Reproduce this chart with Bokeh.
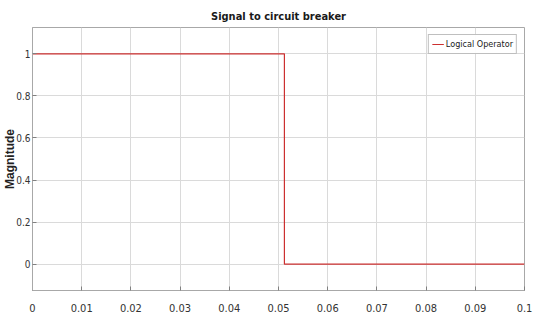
from bokeh.plotting import figure
from bokeh.models import Range1d, FixedTicker, Legend, LegendItem
from bokeh.embed import file_html
from bokeh.resources import INLINE

time = [0.0, 0.0512, 0.0512, 0.1]
signal = [1, 1, 0, 0]
x_ticks = [0, 0.01, 0.02, 0.03, 0.04, 0.05, 0.06, 0.07, 0.08, 0.09, 0.1]
x_labels = ["0", "0.01", "0.02", "0.03", "0.04", "0.05", "0.06", "0.07", "0.08", "0.09", "0.1"]
y_ticks = [0, 0.2, 0.4, 0.6, 0.8, 1]
y_labels = ["0", "0.2", "0.4", "0.6", "0.8", "1"]

NARROW = "'DejaVu Sans Condensed', 'Liberation Sans', sans-serif"

p = figure(width=537, height=314, output_backend="svg", toolbar_location=None,
           x_range=Range1d(0, 0.1), y_range=Range1d(-0.125, 1.125),
           min_border_left=32, min_border_right=13, min_border_top=27, min_border_bottom=24)

p.title.text = "Signal to circuit breaker"
p.title.align = "center"
p.title.text_font = NARROW
p.title.text_font_size = "11px"
p.title.text_font_style = "bold"
p.title.text_color = "#1a1a1a"
p.title.standoff = 9

r = p.line(time, signal, line_color="#cc3030", line_width=1.2)

for ax in (p.xaxis[0], p.yaxis[0]):
    ax.axis_line_color = "#a8a8a8"
    ax.major_tick_line_color = "#808080"
    ax.major_tick_in = 4
    ax.major_tick_out = 0
    ax.minor_tick_line_color = None
    ax.major_label_text_font = NARROW
    ax.major_label_text_color = "#333333"

p.xaxis.major_label_text_font_size = "11px"
p.yaxis.major_label_text_font_size = "10px"
p.xaxis.ticker = FixedTicker(ticks=x_ticks)
p.xaxis.major_label_overrides = {t: l for t, l in zip(x_ticks, x_labels)}
p.xaxis.major_label_standoff = 13
p.yaxis.ticker = FixedTicker(ticks=y_ticks)
p.yaxis.major_label_overrides = {t: l for t, l in zip(y_ticks, y_labels)}
p.yaxis.major_label_standoff = 2

p.yaxis.axis_label = "Magnitude"
p.yaxis.axis_label_text_font = "Liberation Sans"
p.yaxis.axis_label_text_font_style = "bold"
p.yaxis.axis_label_text_font_size = "12px"
p.yaxis.axis_label_text_color = "#222222"
p.yaxis.axis_label_standoff = -4

p.xgrid.grid_line_color = "#dadada"
p.ygrid.grid_line_color = "#dadada"
p.outline_line_color = "#a8a8a8"

legend = Legend(items=[LegendItem(label="Logical Operator", renderers=[r])],
                location="top_right")
legend.label_text_font = NARROW
legend.label_text_font_size = "9px"
legend.label_text_color = "#222222"
legend.glyph_width = 12
legend.glyph_height = 10
legend.label_standoff = 2
legend.padding = 3
legend.spacing = 0
legend.margin = 7
legend.border_line_color = "#808080"
legend.label_height = 12
p.add_layout(legend)

open("out.html", "w").write(file_html(p, INLINE))
